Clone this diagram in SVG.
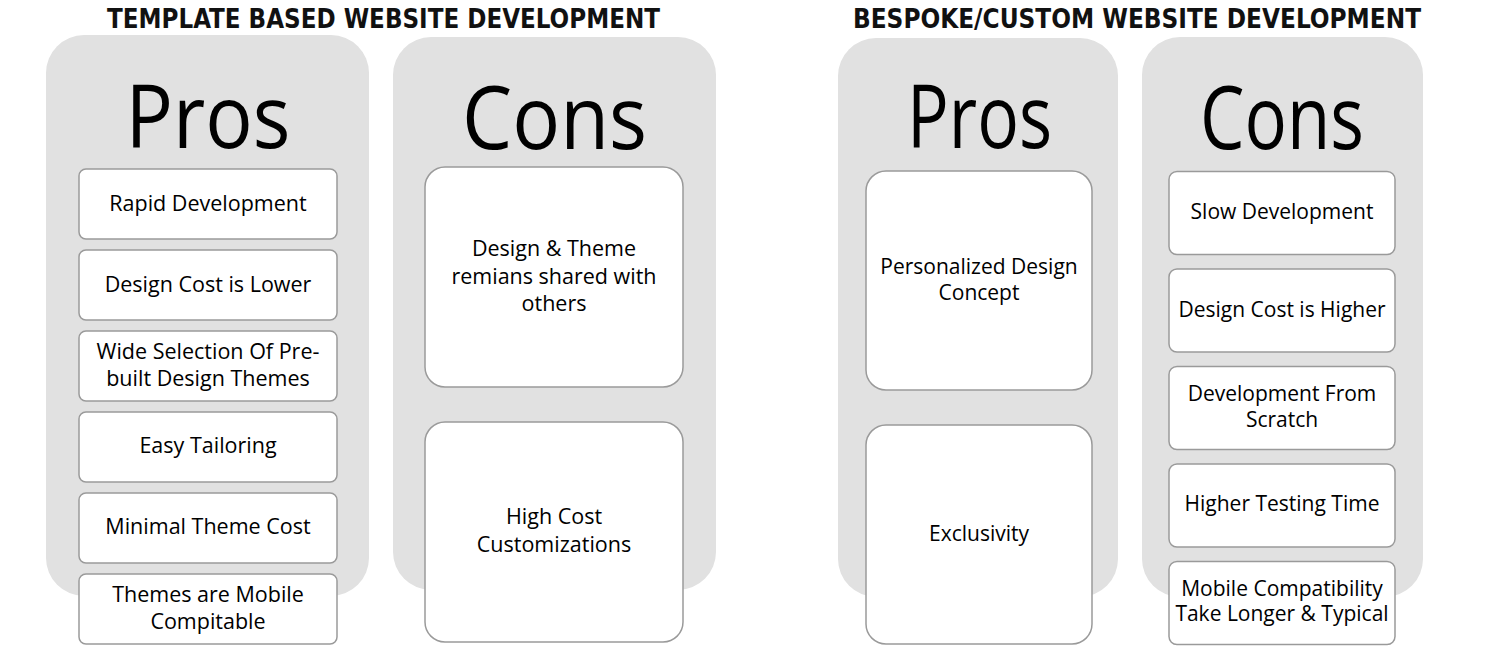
<svg xmlns="http://www.w3.org/2000/svg" width="1500" height="647" viewBox="0 0 1500 647">
<style>
.panel{fill:#e1e1e1}
.box{fill:#fff;stroke:#9a9a9a;stroke-width:1.5}
.t{font-family:"Open Sans","Noto Sans","Liberation Sans",sans-serif;font-size:21.5px;fill:#000;text-anchor:middle}
.t2{font-family:"Open Sans","Noto Sans","Liberation Sans",sans-serif;font-size:21px;fill:#000;text-anchor:middle}
.big{font-family:"Open Sans","Noto Sans","Liberation Sans",sans-serif;font-size:88px;fill:#000;text-anchor:middle}
.title{font-family:"Liberation Sans Narrow","DejaVu Sans Condensed","Liberation Sans",sans-serif;font-weight:bold;font-size:27px;fill:#111;text-anchor:middle}
</style>
<rect width="1500" height="647" fill="#fff"/>
<text class="title" x="383.5" y="28" textLength="553" lengthAdjust="spacingAndGlyphs">TEMPLATE BASED WEBSITE DEVELOPMENT</text>
<text class="title" x="1137" y="28" textLength="568" lengthAdjust="spacingAndGlyphs">BESPOKE/CUSTOM WEBSITE DEVELOPMENT</text>

<g id="template-pros">
<rect class="panel" x="46" y="35" width="323" height="561" rx="38"/>
<text class="big" x="208" y="148" textLength="165" lengthAdjust="spacingAndGlyphs">Pros</text>
</g>
<g id="template-cons">
<rect class="panel" x="393" y="37" width="323" height="553" rx="38"/>
<text class="big" x="554.5" y="149" textLength="185" lengthAdjust="spacingAndGlyphs">Cons</text>
</g>
<g id="custom-pros">
<rect class="panel" x="838" y="38" width="280" height="559" rx="38"/>
<text class="big" x="979.5" y="148" textLength="145" lengthAdjust="spacingAndGlyphs">Pros</text>
</g>
<g id="custom-cons">
<rect class="panel" x="1142" y="37" width="281" height="560" rx="38"/>
<text class="big" x="1282" y="149" textLength="164" lengthAdjust="spacingAndGlyphs">Cons</text>
</g>

<g id="tp1"><rect class="box" x="79" y="169" width="258" height="70" rx="7"/><text class="t" x="208" y="211">Rapid Development</text></g>
<g id="tp2"><rect class="box" x="79" y="250" width="258" height="70" rx="7"/><text class="t" x="208" y="292">Design Cost is Lower</text></g>
<g id="tp3"><rect class="box" x="79" y="331" width="258" height="70" rx="7"/><text class="t" x="208" y="359">Wide Selection Of Pre-</text><text class="t" x="208" y="386">built Design Themes</text></g>
<g id="tp4"><rect class="box" x="79" y="412" width="258" height="70" rx="7"/><text class="t" x="208" y="453">Easy Tailoring</text></g>
<g id="tp5"><rect class="box" x="79" y="493" width="258" height="70" rx="7"/><text class="t" x="208" y="534">Minimal Theme Cost</text></g>
<g id="tp6"><rect class="box" x="79" y="574" width="258" height="70" rx="7"/><text class="t" x="208" y="602">Themes are Mobile</text><text class="t" x="208" y="629">Compitable</text></g>

<g id="tc1"><rect class="box" x="425" y="167" width="258" height="220" rx="20"/><text class="t" x="554" y="256">Design &amp; Theme</text><text class="t" x="554" y="284">remians shared with</text><text class="t" x="554" y="311">others</text></g>
<g id="tc2"><rect class="box" x="425" y="422" width="258" height="220" rx="20"/><text class="t" x="554" y="524">High Cost</text><text class="t" x="554" y="552">Customizations</text></g>

<g id="cp1"><rect class="box" x="866" y="171" width="226" height="219" rx="20"/><text class="t2" x="979" y="274">Personalized Design</text><text class="t2" x="979" y="300">Concept</text></g>
<g id="cp2"><rect class="box" x="866" y="425" width="226" height="219" rx="20"/><text class="t2" x="979" y="541">Exclusivity</text></g>

<g id="cc1"><rect class="box" x="1169" y="171.5" width="226" height="83" rx="8"/><text class="t2" x="1282" y="219">Slow Development</text></g>
<g id="cc2"><rect class="box" x="1169" y="269" width="226" height="83" rx="8"/><text class="t2" x="1282" y="317">Design Cost is Higher</text></g>
<g id="cc3"><rect class="box" x="1169" y="366.5" width="226" height="83" rx="8"/><text class="t2" x="1282" y="401">Development From</text><text class="t2" x="1282" y="427">Scratch</text></g>
<g id="cc4"><rect class="box" x="1169" y="464" width="226" height="83" rx="8"/><text class="t2" x="1282" y="511">Higher Testing Time</text></g>
<g id="cc5"><rect class="box" x="1169" y="561.5" width="226" height="83" rx="8"/><text class="t2" x="1282" y="596">Mobile Compatibility</text><text class="t2" x="1282" y="621">Take Longer &amp; Typical</text></g>

<g id="connectors"/>
</svg>
